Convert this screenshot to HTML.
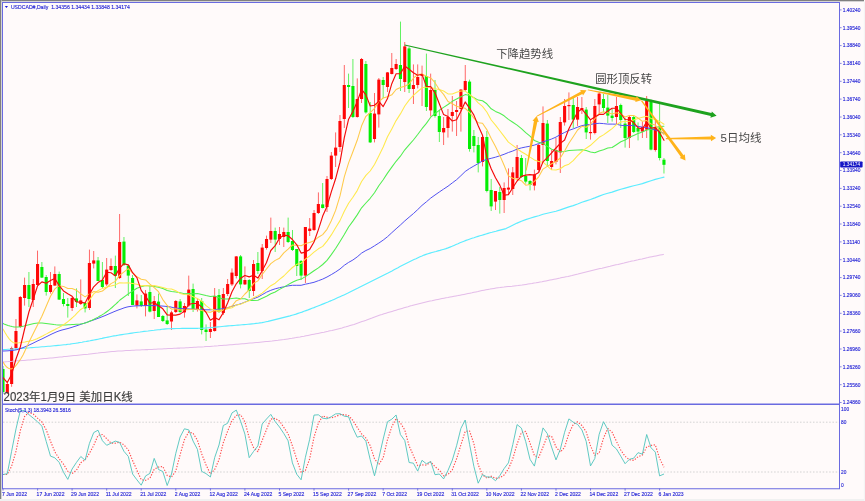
<!DOCTYPE html><html><head><meta charset="utf-8"><title>USDCAD Daily</title>
<style>html,body{margin:0;padding:0;background:#fffafa;}body{width:865px;height:501px;overflow:hidden;position:relative;font-family:"Liberation Sans","Noto Sans CJK SC",sans-serif;}svg{position:absolute;left:0;top:0;display:block;filter:blur(0.3px)}text{font-family:"Liberation Sans","Noto Sans CJK SC",sans-serif;}</style></head><body>
<svg width="865" height="501" viewBox="0 0 865 501">
<rect x="0" y="0" width="865" height="501" fill="#fffafa"/>
<rect x="0" y="0" width="864" height="1.7" fill="#c4c4c4"/>
<rect x="0" y="0" width="864" height="1.0" fill="#808080"/>
<rect x="0" y="0" width="1.7" height="499.2" fill="#c4c4c4"/>
<rect x="0" y="0" width="1.0" height="499.2" fill="#808080"/>
<rect x="0" y="499" width="865" height="2" fill="#f1f1f1"/>
<rect x="863.8" y="1.6" width="1.2" height="500" fill="#f4f4f4"/>
<defs><clipPath id="cm"><rect x="3" y="3" width="836" height="400.5"/></clipPath><clipPath id="cs"><rect x="3" y="405" width="836" height="83"/></clipPath></defs>
<g clip-path="url(#cm)">
<rect x="2.55" y="366.0" width="0.9" height="28.0" fill="#50f050"/>
<rect x="1.45" y="369.0" width="3.1" height="23.0" fill="#04ee04"/>
<rect x="6.87" y="383.0" width="0.9" height="11.0" fill="#ff5858"/>
<rect x="5.77" y="384.0" width="3.1" height="9.0" fill="#ff0606"/>
<rect x="11.19" y="346.6" width="0.9" height="40.2" fill="#ff5858"/>
<rect x="10.09" y="348.0" width="3.1" height="36.0" fill="#ff0606"/>
<rect x="15.51" y="319.0" width="0.9" height="31.0" fill="#ff5858"/>
<rect x="14.41" y="331.0" width="3.1" height="17.0" fill="#ff0606"/>
<rect x="19.83" y="296.0" width="0.9" height="32.0" fill="#ff5858"/>
<rect x="18.73" y="297.0" width="3.1" height="30.0" fill="#ff0606"/>
<rect x="24.15" y="277.6" width="0.9" height="28.0" fill="#ff5858"/>
<rect x="23.05" y="285.0" width="3.1" height="13.0" fill="#ff0606"/>
<rect x="28.47" y="272.0" width="0.9" height="35.0" fill="#50f050"/>
<rect x="27.37" y="285.0" width="3.1" height="14.0" fill="#04ee04"/>
<rect x="32.79" y="279.0" width="0.9" height="28.0" fill="#ff5858"/>
<rect x="31.69" y="284.0" width="3.1" height="16.0" fill="#ff0606"/>
<rect x="37.11" y="250.6" width="0.9" height="34.4" fill="#ff5858"/>
<rect x="36.01" y="264.0" width="3.1" height="21.0" fill="#ff0606"/>
<rect x="41.43" y="262.0" width="0.9" height="16.0" fill="#50f050"/>
<rect x="40.33" y="267.0" width="3.1" height="10.6" fill="#04ee04"/>
<rect x="45.75" y="275.0" width="0.9" height="20.6" fill="#50f050"/>
<rect x="44.65" y="277.0" width="3.1" height="15.0" fill="#04ee04"/>
<rect x="50.07" y="272.0" width="0.9" height="21.6" fill="#ff5858"/>
<rect x="48.97" y="285.0" width="3.1" height="7.0" fill="#ff0606"/>
<rect x="54.39" y="266.4" width="0.9" height="19.2" fill="#ff5858"/>
<rect x="53.29" y="274.0" width="3.1" height="11.6" fill="#ff0606"/>
<rect x="58.71" y="271.6" width="0.9" height="28.4" fill="#50f050"/>
<rect x="57.61" y="274.0" width="3.1" height="25.6" fill="#04ee04"/>
<rect x="63.03" y="293.0" width="0.9" height="13.4" fill="#50f050"/>
<rect x="61.93" y="299.0" width="3.1" height="5.0" fill="#04ee04"/>
<rect x="67.35" y="298.0" width="0.9" height="19.6" fill="#50f050"/>
<rect x="66.25" y="304.0" width="3.1" height="2.0" fill="#04ee04"/>
<rect x="71.67" y="297.0" width="0.9" height="14.0" fill="#ff5858"/>
<rect x="70.57" y="298.0" width="3.1" height="10.0" fill="#ff0606"/>
<rect x="75.99" y="288.4" width="0.9" height="18.6" fill="#50f050"/>
<rect x="74.89" y="298.4" width="3.1" height="3.6" fill="#04ee04"/>
<rect x="80.31" y="279.4" width="0.9" height="25.6" fill="#ff5858"/>
<rect x="79.21" y="300.4" width="3.1" height="3.6" fill="#ff0606"/>
<rect x="84.63" y="302.0" width="0.9" height="10.4" fill="#50f050"/>
<rect x="83.53" y="303.0" width="3.1" height="5.4" fill="#04ee04"/>
<rect x="88.95" y="249.6" width="0.9" height="60.4" fill="#ff5858"/>
<rect x="87.85" y="263.0" width="3.1" height="45.0" fill="#ff0606"/>
<rect x="93.27" y="251.0" width="0.9" height="17.4" fill="#ff5858"/>
<rect x="92.17" y="260.4" width="3.1" height="3.2" fill="#ff0606"/>
<rect x="97.59" y="257.0" width="0.9" height="24.0" fill="#50f050"/>
<rect x="96.49" y="260.4" width="3.1" height="20.6" fill="#04ee04"/>
<rect x="101.91" y="262.0" width="0.9" height="26.0" fill="#50f050"/>
<rect x="100.81" y="280.0" width="3.1" height="7.0" fill="#04ee04"/>
<rect x="106.23" y="258.0" width="0.9" height="28.0" fill="#ff5858"/>
<rect x="105.13" y="269.6" width="3.1" height="14.8" fill="#ff0606"/>
<rect x="110.55" y="258.4" width="0.9" height="12.6" fill="#ff5858"/>
<rect x="109.45" y="266.0" width="3.1" height="4.0" fill="#ff0606"/>
<rect x="114.87" y="255.6" width="0.9" height="32.4" fill="#50f050"/>
<rect x="113.77" y="266.0" width="3.1" height="10.0" fill="#04ee04"/>
<rect x="119.19" y="214.0" width="0.9" height="65.0" fill="#ff5858"/>
<rect x="118.09" y="242.0" width="3.1" height="36.0" fill="#ff0606"/>
<rect x="123.51" y="237.0" width="0.9" height="29.0" fill="#50f050"/>
<rect x="122.41" y="241.6" width="3.1" height="23.4" fill="#04ee04"/>
<rect x="127.83" y="265.6" width="0.9" height="30.4" fill="#50f050"/>
<rect x="126.73" y="265.6" width="3.1" height="10.0" fill="#04ee04"/>
<rect x="132.15" y="275.0" width="0.9" height="30.0" fill="#50f050"/>
<rect x="131.05" y="278.0" width="3.1" height="27.0" fill="#04ee04"/>
<rect x="136.47" y="294.4" width="0.9" height="14.0" fill="#ff5858"/>
<rect x="135.37" y="300.4" width="3.1" height="5.2" fill="#ff0606"/>
<rect x="140.79" y="295.0" width="0.9" height="12.0" fill="#50f050"/>
<rect x="139.69" y="301.4" width="3.1" height="4.6" fill="#04ee04"/>
<rect x="145.11" y="290.0" width="0.9" height="26.4" fill="#ff5858"/>
<rect x="144.01" y="293.6" width="3.1" height="12.4" fill="#ff0606"/>
<rect x="149.43" y="286.0" width="0.9" height="26.4" fill="#50f050"/>
<rect x="148.33" y="292.0" width="3.1" height="19.6" fill="#04ee04"/>
<rect x="153.75" y="296.0" width="0.9" height="23.0" fill="#ff5858"/>
<rect x="152.65" y="301.0" width="3.1" height="10.0" fill="#ff0606"/>
<rect x="158.07" y="293.6" width="0.9" height="23.4" fill="#50f050"/>
<rect x="156.97" y="301.6" width="3.1" height="15.4" fill="#04ee04"/>
<rect x="162.39" y="315.0" width="0.9" height="7.0" fill="#50f050"/>
<rect x="161.29" y="316.0" width="3.1" height="5.0" fill="#04ee04"/>
<rect x="166.71" y="307.0" width="0.9" height="18.0" fill="#50f050"/>
<rect x="165.61" y="320.4" width="3.1" height="3.6" fill="#04ee04"/>
<rect x="171.03" y="310.7" width="0.9" height="19.3" fill="#ff5858"/>
<rect x="169.93" y="312.4" width="3.1" height="9.1" fill="#ff0606"/>
<rect x="175.35" y="300.0" width="0.9" height="13.0" fill="#ff5858"/>
<rect x="174.25" y="301.0" width="3.1" height="11.0" fill="#ff0606"/>
<rect x="179.67" y="299.0" width="0.9" height="14.0" fill="#50f050"/>
<rect x="178.57" y="301.4" width="3.1" height="10.6" fill="#04ee04"/>
<rect x="183.99" y="303.0" width="0.9" height="14.6" fill="#ff5858"/>
<rect x="182.89" y="306.0" width="3.1" height="6.4" fill="#ff0606"/>
<rect x="188.31" y="275.6" width="0.9" height="31.4" fill="#ff5858"/>
<rect x="187.21" y="289.6" width="3.1" height="16.0" fill="#ff0606"/>
<rect x="192.63" y="283.6" width="0.9" height="28.4" fill="#50f050"/>
<rect x="191.53" y="289.0" width="3.1" height="20.0" fill="#04ee04"/>
<rect x="196.95" y="298.0" width="0.9" height="13.6" fill="#ff5858"/>
<rect x="195.85" y="301.0" width="3.1" height="9.0" fill="#ff0606"/>
<rect x="201.27" y="298.0" width="0.9" height="36.4" fill="#50f050"/>
<rect x="200.17" y="301.0" width="3.1" height="29.0" fill="#04ee04"/>
<rect x="205.59" y="324.4" width="0.9" height="16.6" fill="#50f050"/>
<rect x="204.49" y="329.6" width="3.1" height="2.4" fill="#04ee04"/>
<rect x="209.91" y="322.0" width="0.9" height="16.0" fill="#ff5858"/>
<rect x="208.81" y="329.0" width="3.1" height="3.0" fill="#ff0606"/>
<rect x="214.23" y="288.0" width="0.9" height="43.6" fill="#ff5858"/>
<rect x="213.13" y="296.0" width="3.1" height="35.0" fill="#ff0606"/>
<rect x="218.55" y="289.0" width="0.9" height="24.0" fill="#50f050"/>
<rect x="217.45" y="295.0" width="3.1" height="17.0" fill="#04ee04"/>
<rect x="222.87" y="288.0" width="0.9" height="27.0" fill="#ff5858"/>
<rect x="221.77" y="294.0" width="3.1" height="19.0" fill="#ff0606"/>
<rect x="227.19" y="279.0" width="0.9" height="17.0" fill="#ff5858"/>
<rect x="226.09" y="284.0" width="3.1" height="10.0" fill="#ff0606"/>
<rect x="231.51" y="268.4" width="0.9" height="17.6" fill="#ff5858"/>
<rect x="230.41" y="272.6" width="3.1" height="11.8" fill="#ff0606"/>
<rect x="235.83" y="256.0" width="0.9" height="22.4" fill="#ff5858"/>
<rect x="234.73" y="256.4" width="3.1" height="19.6" fill="#ff0606"/>
<rect x="240.15" y="255.0" width="0.9" height="33.4" fill="#50f050"/>
<rect x="239.05" y="256.4" width="3.1" height="28.0" fill="#04ee04"/>
<rect x="244.47" y="266.4" width="0.9" height="18.6" fill="#ff5858"/>
<rect x="243.37" y="280.0" width="3.1" height="4.4" fill="#ff0606"/>
<rect x="248.79" y="279.0" width="0.9" height="19.0" fill="#50f050"/>
<rect x="247.69" y="280.0" width="3.1" height="11.0" fill="#04ee04"/>
<rect x="253.11" y="260.0" width="0.9" height="36.0" fill="#ff5858"/>
<rect x="252.01" y="264.0" width="3.1" height="27.0" fill="#ff0606"/>
<rect x="257.43" y="252.0" width="0.9" height="22.0" fill="#50f050"/>
<rect x="256.33" y="263.0" width="3.1" height="8.0" fill="#04ee04"/>
<rect x="261.75" y="244.0" width="0.9" height="35.0" fill="#ff5858"/>
<rect x="260.65" y="247.6" width="3.1" height="23.4" fill="#ff0606"/>
<rect x="266.07" y="235.6" width="0.9" height="14.0" fill="#ff5858"/>
<rect x="264.97" y="239.0" width="3.1" height="9.0" fill="#ff0606"/>
<rect x="270.39" y="217.6" width="0.9" height="25.4" fill="#ff5858"/>
<rect x="269.29" y="231.0" width="3.1" height="8.6" fill="#ff0606"/>
<rect x="274.71" y="227.6" width="0.9" height="24.4" fill="#50f050"/>
<rect x="273.61" y="231.0" width="3.1" height="8.6" fill="#04ee04"/>
<rect x="279.03" y="227.0" width="0.9" height="18.0" fill="#ff5858"/>
<rect x="277.93" y="234.0" width="3.1" height="5.0" fill="#ff0606"/>
<rect x="283.35" y="227.6" width="0.9" height="19.4" fill="#ff5858"/>
<rect x="282.25" y="232.0" width="3.1" height="5.0" fill="#ff0606"/>
<rect x="287.67" y="217.6" width="0.9" height="25.4" fill="#50f050"/>
<rect x="286.57" y="232.0" width="3.1" height="10.0" fill="#04ee04"/>
<rect x="291.99" y="230.0" width="0.9" height="21.0" fill="#50f050"/>
<rect x="290.89" y="241.0" width="3.1" height="9.0" fill="#04ee04"/>
<rect x="296.31" y="249.0" width="0.9" height="27.0" fill="#50f050"/>
<rect x="295.21" y="249.0" width="3.1" height="17.0" fill="#04ee04"/>
<rect x="300.63" y="260.0" width="0.9" height="20.0" fill="#50f050"/>
<rect x="299.53" y="261.0" width="3.1" height="14.6" fill="#04ee04"/>
<rect x="304.95" y="227.0" width="0.9" height="56.0" fill="#ff5858"/>
<rect x="303.85" y="227.0" width="3.1" height="48.6" fill="#ff0606"/>
<rect x="309.27" y="218.0" width="0.9" height="18.0" fill="#ff5858"/>
<rect x="308.17" y="228.6" width="3.1" height="2.4" fill="#ff0606"/>
<rect x="313.59" y="210.0" width="0.9" height="21.0" fill="#ff5858"/>
<rect x="312.49" y="213.0" width="3.1" height="17.0" fill="#ff0606"/>
<rect x="317.91" y="192.4" width="0.9" height="21.6" fill="#ff5858"/>
<rect x="316.81" y="204.0" width="3.1" height="9.0" fill="#ff0606"/>
<rect x="322.23" y="183.0" width="0.9" height="25.4" fill="#50f050"/>
<rect x="321.13" y="204.4" width="3.1" height="3.6" fill="#04ee04"/>
<rect x="326.55" y="176.0" width="0.9" height="36.0" fill="#ff5858"/>
<rect x="325.45" y="179.0" width="3.1" height="28.0" fill="#ff0606"/>
<rect x="330.87" y="152.0" width="0.9" height="28.0" fill="#ff5858"/>
<rect x="329.77" y="155.6" width="3.1" height="23.4" fill="#ff0606"/>
<rect x="335.19" y="132.4" width="0.9" height="34.6" fill="#ff5858"/>
<rect x="334.09" y="147.6" width="3.1" height="8.0" fill="#ff0606"/>
<rect x="339.51" y="115.0" width="0.9" height="37.0" fill="#ff5858"/>
<rect x="338.41" y="121.0" width="3.1" height="26.0" fill="#ff0606"/>
<rect x="343.83" y="65.0" width="0.9" height="63.0" fill="#ff5858"/>
<rect x="342.73" y="85.0" width="3.1" height="34.0" fill="#ff0606"/>
<rect x="348.15" y="73.6" width="0.9" height="34.4" fill="#50f050"/>
<rect x="347.05" y="85.0" width="3.1" height="2.0" fill="#04ee04"/>
<rect x="352.47" y="59.0" width="0.9" height="59.0" fill="#50f050"/>
<rect x="351.37" y="86.0" width="3.1" height="31.0" fill="#04ee04"/>
<rect x="356.79" y="78.4" width="0.9" height="39.2" fill="#ff5858"/>
<rect x="355.69" y="99.0" width="3.1" height="18.0" fill="#ff0606"/>
<rect x="361.11" y="58.0" width="0.9" height="45.0" fill="#ff5858"/>
<rect x="360.01" y="59.0" width="3.1" height="40.0" fill="#ff0606"/>
<rect x="365.43" y="61.0" width="0.9" height="52.6" fill="#50f050"/>
<rect x="364.33" y="64.0" width="3.1" height="48.4" fill="#04ee04"/>
<rect x="369.75" y="102.0" width="0.9" height="41.0" fill="#50f050"/>
<rect x="368.65" y="113.0" width="3.1" height="29.4" fill="#04ee04"/>
<rect x="374.07" y="93.0" width="0.9" height="49.4" fill="#ff5858"/>
<rect x="372.97" y="113.6" width="3.1" height="25.4" fill="#ff0606"/>
<rect x="378.39" y="78.0" width="0.9" height="49.6" fill="#ff5858"/>
<rect x="377.29" y="79.6" width="3.1" height="34.8" fill="#ff0606"/>
<rect x="382.71" y="77.0" width="0.9" height="21.0" fill="#50f050"/>
<rect x="381.61" y="80.0" width="3.1" height="5.0" fill="#04ee04"/>
<rect x="387.03" y="72.0" width="0.9" height="20.0" fill="#ff5858"/>
<rect x="385.93" y="72.4" width="3.1" height="14.6" fill="#ff0606"/>
<rect x="391.35" y="53.0" width="0.9" height="21.4" fill="#ff5858"/>
<rect x="390.25" y="68.0" width="3.1" height="6.0" fill="#ff0606"/>
<rect x="395.67" y="59.0" width="0.9" height="11.0" fill="#ff5858"/>
<rect x="394.57" y="64.0" width="3.1" height="5.0" fill="#ff0606"/>
<rect x="399.99" y="21.6" width="0.9" height="69.4" fill="#50f050"/>
<rect x="398.89" y="65.0" width="3.1" height="14.0" fill="#04ee04"/>
<rect x="404.31" y="42.0" width="0.9" height="50.0" fill="#ff5858"/>
<rect x="403.21" y="46.4" width="3.1" height="35.6" fill="#ff0606"/>
<rect x="408.63" y="47.0" width="0.9" height="46.0" fill="#50f050"/>
<rect x="407.53" y="48.4" width="3.1" height="40.6" fill="#04ee04"/>
<rect x="412.95" y="64.4" width="0.9" height="39.6" fill="#ff5858"/>
<rect x="411.85" y="85.0" width="3.1" height="4.0" fill="#ff0606"/>
<rect x="417.27" y="64.4" width="0.9" height="24.0" fill="#ff5858"/>
<rect x="416.17" y="77.0" width="3.1" height="8.0" fill="#ff0606"/>
<rect x="421.59" y="65.6" width="0.9" height="40.4" fill="#ff5858"/>
<rect x="420.49" y="74.0" width="3.1" height="2.0" fill="#ff0606"/>
<rect x="425.91" y="53.6" width="0.9" height="57.4" fill="#50f050"/>
<rect x="424.81" y="76.0" width="3.1" height="31.0" fill="#04ee04"/>
<rect x="430.23" y="73.6" width="0.9" height="42.8" fill="#ff5858"/>
<rect x="429.13" y="90.0" width="3.1" height="20.4" fill="#ff0606"/>
<rect x="434.55" y="80.0" width="0.9" height="37.6" fill="#50f050"/>
<rect x="433.45" y="90.0" width="3.1" height="26.0" fill="#04ee04"/>
<rect x="438.87" y="110.0" width="0.9" height="32.0" fill="#50f050"/>
<rect x="437.77" y="116.0" width="3.1" height="16.0" fill="#04ee04"/>
<rect x="443.19" y="117.0" width="0.9" height="28.0" fill="#ff5858"/>
<rect x="442.09" y="128.0" width="3.1" height="4.4" fill="#ff0606"/>
<rect x="447.51" y="109.0" width="0.9" height="28.6" fill="#ff5858"/>
<rect x="446.41" y="117.0" width="3.1" height="11.0" fill="#ff0606"/>
<rect x="451.83" y="96.0" width="0.9" height="35.6" fill="#ff5858"/>
<rect x="450.73" y="112.0" width="3.1" height="4.0" fill="#ff0606"/>
<rect x="456.15" y="101.0" width="0.9" height="35.0" fill="#ff5858"/>
<rect x="455.05" y="110.0" width="3.1" height="2.0" fill="#ff0606"/>
<rect x="460.47" y="89.0" width="0.9" height="42.6" fill="#ff5858"/>
<rect x="459.37" y="89.6" width="3.1" height="19.4" fill="#ff0606"/>
<rect x="464.79" y="65.0" width="0.9" height="26.0" fill="#ff5858"/>
<rect x="463.69" y="81.0" width="3.1" height="9.0" fill="#ff0606"/>
<rect x="469.11" y="79.6" width="0.9" height="72.0" fill="#50f050"/>
<rect x="468.01" y="81.6" width="3.1" height="67.4" fill="#04ee04"/>
<rect x="473.43" y="130.0" width="0.9" height="22.4" fill="#50f050"/>
<rect x="472.33" y="136.0" width="3.1" height="10.0" fill="#04ee04"/>
<rect x="477.75" y="137.0" width="0.9" height="35.4" fill="#50f050"/>
<rect x="476.65" y="145.0" width="3.1" height="18.0" fill="#04ee04"/>
<rect x="482.07" y="136.0" width="0.9" height="30.4" fill="#ff5858"/>
<rect x="480.97" y="137.0" width="3.1" height="25.0" fill="#ff0606"/>
<rect x="486.39" y="131.0" width="0.9" height="61.4" fill="#50f050"/>
<rect x="485.29" y="137.0" width="3.1" height="54.0" fill="#04ee04"/>
<rect x="490.71" y="179.0" width="0.9" height="32.0" fill="#50f050"/>
<rect x="489.61" y="190.0" width="3.1" height="16.4" fill="#04ee04"/>
<rect x="495.03" y="191.0" width="0.9" height="19.0" fill="#ff5858"/>
<rect x="493.93" y="191.0" width="3.1" height="10.6" fill="#ff0606"/>
<rect x="499.35" y="187.0" width="0.9" height="26.6" fill="#50f050"/>
<rect x="498.25" y="192.0" width="3.1" height="8.0" fill="#04ee04"/>
<rect x="503.67" y="182.4" width="0.9" height="30.6" fill="#ff5858"/>
<rect x="502.57" y="188.0" width="3.1" height="12.0" fill="#ff0606"/>
<rect x="507.99" y="168.4" width="0.9" height="26.6" fill="#ff5858"/>
<rect x="506.89" y="187.6" width="3.1" height="2.0" fill="#ff0606"/>
<rect x="512.31" y="167.0" width="0.9" height="28.0" fill="#ff5858"/>
<rect x="511.21" y="172.4" width="3.1" height="16.6" fill="#ff0606"/>
<rect x="516.63" y="145.0" width="0.9" height="34.0" fill="#ff5858"/>
<rect x="515.53" y="157.0" width="3.1" height="21.0" fill="#ff0606"/>
<rect x="520.95" y="155.0" width="0.9" height="23.0" fill="#50f050"/>
<rect x="519.85" y="158.0" width="3.1" height="19.0" fill="#04ee04"/>
<rect x="525.27" y="158.0" width="0.9" height="25.6" fill="#50f050"/>
<rect x="524.17" y="176.0" width="3.1" height="5.6" fill="#04ee04"/>
<rect x="529.59" y="180.0" width="0.9" height="10.4" fill="#50f050"/>
<rect x="528.49" y="181.0" width="3.1" height="4.0" fill="#04ee04"/>
<rect x="533.91" y="169.6" width="0.9" height="20.8" fill="#ff5858"/>
<rect x="532.81" y="174.4" width="3.1" height="11.2" fill="#ff0606"/>
<rect x="538.23" y="144.0" width="0.9" height="28.0" fill="#ff5858"/>
<rect x="537.13" y="145.0" width="3.1" height="25.0" fill="#ff0606"/>
<rect x="542.55" y="106.4" width="0.9" height="56.6" fill="#ff5858"/>
<rect x="541.45" y="123.0" width="3.1" height="22.0" fill="#ff0606"/>
<rect x="546.87" y="120.0" width="0.9" height="47.0" fill="#50f050"/>
<rect x="545.77" y="123.6" width="3.1" height="37.4" fill="#04ee04"/>
<rect x="551.19" y="150.0" width="0.9" height="20.0" fill="#ff5858"/>
<rect x="550.09" y="161.0" width="3.1" height="6.0" fill="#ff0606"/>
<rect x="555.51" y="138.0" width="0.9" height="26.4" fill="#ff5858"/>
<rect x="554.41" y="150.0" width="3.1" height="12.0" fill="#ff0606"/>
<rect x="559.83" y="117.0" width="0.9" height="56.0" fill="#ff5858"/>
<rect x="558.73" y="122.0" width="3.1" height="30.4" fill="#ff0606"/>
<rect x="564.15" y="99.0" width="0.9" height="26.6" fill="#ff5858"/>
<rect x="563.05" y="106.0" width="3.1" height="16.4" fill="#ff0606"/>
<rect x="568.47" y="92.4" width="0.9" height="27.6" fill="#ff5858"/>
<rect x="567.37" y="105.0" width="3.1" height="1.2" fill="#ff0606"/>
<rect x="572.79" y="98.0" width="0.9" height="30.0" fill="#50f050"/>
<rect x="571.69" y="105.0" width="3.1" height="14.6" fill="#04ee04"/>
<rect x="577.11" y="97.0" width="0.9" height="29.0" fill="#ff5858"/>
<rect x="576.01" y="107.0" width="3.1" height="12.6" fill="#ff0606"/>
<rect x="581.43" y="97.0" width="0.9" height="17.0" fill="#ff5858"/>
<rect x="580.33" y="108.0" width="3.1" height="2.0" fill="#ff0606"/>
<rect x="585.75" y="107.0" width="0.9" height="32.0" fill="#50f050"/>
<rect x="584.65" y="109.6" width="3.1" height="22.8" fill="#04ee04"/>
<rect x="590.07" y="120.0" width="0.9" height="19.6" fill="#ff5858"/>
<rect x="588.97" y="132.0" width="3.1" height="1.2" fill="#ff0606"/>
<rect x="594.39" y="99.0" width="0.9" height="35.4" fill="#ff5858"/>
<rect x="593.29" y="106.0" width="3.1" height="27.0" fill="#ff0606"/>
<rect x="598.71" y="92.0" width="0.9" height="21.6" fill="#ff5858"/>
<rect x="597.61" y="93.6" width="3.1" height="10.8" fill="#ff0606"/>
<rect x="603.03" y="94.0" width="0.9" height="18.4" fill="#50f050"/>
<rect x="601.93" y="99.0" width="3.1" height="9.0" fill="#04ee04"/>
<rect x="607.35" y="95.0" width="0.9" height="28.0" fill="#50f050"/>
<rect x="606.25" y="107.6" width="3.1" height="8.0" fill="#04ee04"/>
<rect x="611.67" y="109.0" width="0.9" height="12.6" fill="#50f050"/>
<rect x="610.57" y="115.6" width="3.1" height="2.4" fill="#04ee04"/>
<rect x="615.99" y="97.0" width="0.9" height="27.0" fill="#ff5858"/>
<rect x="614.89" y="106.0" width="3.1" height="11.0" fill="#ff0606"/>
<rect x="620.31" y="103.6" width="0.9" height="24.4" fill="#50f050"/>
<rect x="619.21" y="105.0" width="3.1" height="15.0" fill="#04ee04"/>
<rect x="624.63" y="118.0" width="0.9" height="29.6" fill="#50f050"/>
<rect x="623.53" y="123.6" width="3.1" height="14.4" fill="#04ee04"/>
<rect x="628.95" y="115.0" width="0.9" height="33.0" fill="#ff5858"/>
<rect x="627.85" y="117.0" width="3.1" height="21.0" fill="#ff0606"/>
<rect x="633.27" y="116.0" width="0.9" height="17.0" fill="#50f050"/>
<rect x="632.17" y="117.0" width="3.1" height="15.0" fill="#04ee04"/>
<rect x="637.59" y="122.4" width="0.9" height="18.0" fill="#50f050"/>
<rect x="636.49" y="128.0" width="3.1" height="3.6" fill="#04ee04"/>
<rect x="641.91" y="121.6" width="0.9" height="16.4" fill="#ff5858"/>
<rect x="640.81" y="127.0" width="3.1" height="4.6" fill="#ff0606"/>
<rect x="646.23" y="96.0" width="0.9" height="42.0" fill="#ff5858"/>
<rect x="645.13" y="101.0" width="3.1" height="28.6" fill="#ff0606"/>
<rect x="650.55" y="99.6" width="0.9" height="50.8" fill="#50f050"/>
<rect x="649.45" y="101.6" width="3.1" height="48.0" fill="#04ee04"/>
<rect x="654.87" y="120.0" width="0.9" height="31.6" fill="#ff5858"/>
<rect x="653.77" y="128.0" width="3.1" height="22.0" fill="#ff0606"/>
<rect x="659.19" y="103.0" width="0.9" height="57.4" fill="#50f050"/>
<rect x="658.09" y="127.6" width="3.1" height="30.4" fill="#04ee04"/>
<rect x="663.51" y="158.0" width="0.9" height="15.5" fill="#50f050"/>
<rect x="662.41" y="159.7" width="3.1" height="5.1" fill="#04ee04"/>
</g>
<g clip-path="url(#cm)" fill="none" stroke-linejoin="round" stroke-linecap="round">
<path d="M2.0,362.0 L4.0,361.9 L6.0,361.7 L8.0,361.6 L10.0,361.4 L12.0,361.3 L14.0,361.1 L16.0,361.0 L18.0,360.8 L20.0,360.7 L22.0,360.5 L24.0,360.4 L26.0,360.2 L28.0,360.0 L30.0,359.9 L32.0,359.7 L34.0,359.5 L36.0,359.3 L38.0,359.2 L40.0,359.0 L42.0,358.8 L44.0,358.6 L46.0,358.5 L48.0,358.3 L50.0,358.1 L52.0,357.9 L54.0,357.7 L56.0,357.5 L58.0,357.3 L60.0,357.1 L62.0,356.9 L64.0,356.6 L66.0,356.4 L68.0,356.2 L70.0,356.0 L72.0,355.8 L74.0,355.6 L76.0,355.4 L78.0,355.2 L80.0,355.0 L82.0,354.8 L84.0,354.6 L86.0,354.4 L88.0,354.2 L90.0,353.9 L92.0,353.7 L94.0,353.5 L96.0,353.3 L98.0,353.1 L100.0,352.8 L102.0,352.6 L104.0,352.4 L106.0,352.2 L108.0,352.0 L110.0,351.8 L112.0,351.6 L114.0,351.5 L116.0,351.3 L118.0,351.1 L120.0,351.0 L122.0,350.9 L124.0,350.7 L126.0,350.6 L128.0,350.5 L130.0,350.4 L132.0,350.3 L134.0,350.2 L136.0,350.1 L138.0,350.0 L140.0,349.9 L142.0,349.8 L144.0,349.7 L146.0,349.6 L148.0,349.6 L150.0,349.5 L152.0,349.4 L154.0,349.3 L156.0,349.2 L158.0,349.1 L160.0,349.0 L162.0,348.9 L164.0,348.8 L166.0,348.7 L168.0,348.6 L170.0,348.5 L172.0,348.4 L174.0,348.3 L176.0,348.2 L178.0,348.1 L180.0,348.1 L182.0,348.0 L184.0,347.9 L186.0,347.8 L188.0,347.7 L190.0,347.6 L192.0,347.5 L194.0,347.3 L196.0,347.2 L198.0,347.1 L200.0,347.0 L202.0,346.9 L204.0,346.8 L206.0,346.6 L208.0,346.5 L210.0,346.4 L212.0,346.2 L214.0,346.1 L216.0,345.9 L218.0,345.8 L220.0,345.6 L222.0,345.5 L224.0,345.3 L226.0,345.2 L228.0,345.0 L230.0,344.8 L232.0,344.7 L234.0,344.5 L236.0,344.3 L238.0,344.2 L240.0,344.0 L242.0,343.8 L244.0,343.7 L246.0,343.5 L248.0,343.3 L250.0,343.1 L252.0,343.0 L254.0,342.8 L256.0,342.6 L258.0,342.4 L260.0,342.2 L262.0,342.0 L264.0,341.8 L266.0,341.6 L268.0,341.4 L270.0,341.2 L272.0,341.0 L274.0,340.7 L276.0,340.5 L278.0,340.3 L280.0,340.0 L282.0,339.7 L284.0,339.5 L286.0,339.2 L288.0,338.9 L290.0,338.6 L292.0,338.3 L294.0,337.9 L296.0,337.6 L298.0,337.2 L300.0,336.9 L302.0,336.5 L304.0,336.2 L306.0,335.8 L308.0,335.4 L310.0,335.0 L312.0,334.6 L314.0,334.2 L316.0,333.8 L318.0,333.4 L320.0,333.0 L322.0,332.6 L324.0,332.2 L326.0,331.7 L328.0,331.3 L330.0,330.8 L332.0,330.4 L334.0,329.9 L336.0,329.4 L338.0,328.9 L340.0,328.4 L342.0,327.9 L344.0,327.3 L346.0,326.8 L348.0,326.2 L350.0,325.6 L352.0,325.0 L354.0,324.4 L356.0,323.7 L358.0,323.0 L360.0,322.3 L362.0,321.6 L364.0,320.9 L366.0,320.2 L368.0,319.4 L370.0,318.7 L372.0,318.0 L374.0,317.2 L376.0,316.5 L378.0,315.8 L380.0,315.1 L382.0,314.5 L384.0,313.8 L386.0,313.2 L388.0,312.6 L390.0,312.0 L392.0,311.4 L394.0,310.8 L396.0,310.2 L398.0,309.6 L400.0,309.0 L402.0,308.4 L404.0,307.8 L406.0,307.2 L408.0,306.7 L410.0,306.1 L412.0,305.6 L414.0,305.0 L416.0,304.5 L418.0,304.0 L420.0,303.5 L422.0,303.0 L424.0,302.5 L426.0,302.0 L428.0,301.5 L430.0,301.1 L432.0,300.7 L434.0,300.2 L436.0,299.8 L438.0,299.4 L440.0,299.0 L442.0,298.6 L444.0,298.2 L446.0,297.8 L448.0,297.5 L450.0,297.1 L452.0,296.7 L454.0,296.3 L456.0,295.9 L458.0,295.6 L460.0,295.2 L462.0,294.8 L464.0,294.4 L466.0,294.0 L468.0,293.6 L470.0,293.2 L472.0,292.8 L474.0,292.3 L476.0,291.9 L478.0,291.5 L480.0,291.0 L482.0,290.6 L484.0,290.2 L486.0,289.8 L488.0,289.4 L490.0,289.1 L492.0,288.7 L494.0,288.4 L496.0,288.1 L498.0,287.8 L500.0,287.6 L502.0,287.3 L504.0,287.1 L506.0,286.8 L508.0,286.6 L510.0,286.4 L512.0,286.2 L514.0,285.9 L516.0,285.7 L518.0,285.5 L520.0,285.2 L522.0,285.0 L524.0,284.7 L526.0,284.4 L528.0,284.1 L530.0,283.8 L532.0,283.5 L534.0,283.1 L536.0,282.8 L538.0,282.4 L540.0,282.0 L542.0,281.7 L544.0,281.3 L546.0,280.9 L548.0,280.5 L550.0,280.1 L552.0,279.7 L554.0,279.3 L556.0,278.9 L558.0,278.5 L560.0,278.1 L562.0,277.6 L564.0,277.2 L566.0,276.8 L568.0,276.4 L570.0,275.9 L572.0,275.5 L574.0,275.0 L576.0,274.5 L578.0,274.1 L580.0,273.6 L582.0,273.1 L584.0,272.6 L586.0,272.1 L588.0,271.6 L590.0,271.1 L592.0,270.6 L594.0,270.1 L596.0,269.6 L598.0,269.1 L600.0,268.6 L602.0,268.2 L604.0,267.7 L606.0,267.2 L608.0,266.7 L610.0,266.3 L612.0,265.8 L614.0,265.3 L616.0,264.8 L618.0,264.4 L620.0,263.9 L622.0,263.4 L624.0,263.0 L626.0,262.5 L628.0,262.0 L630.0,261.6 L632.0,261.1 L634.0,260.7 L636.0,260.2 L638.0,259.8 L640.0,259.3 L642.0,258.9 L644.0,258.4 L646.0,258.0 L648.0,257.6 L650.0,257.1 L652.0,256.7 L654.0,256.3 L656.0,255.9 L658.0,255.5 L660.0,255.1 L662.0,254.7 L663.4,254.4" stroke="#e4bcea" stroke-width="1.05"/>
<path d="M2.0,349.7 L4.0,349.6 L6.0,349.5 L8.0,349.3 L10.0,349.2 L12.0,349.1 L14.0,349.0 L16.0,348.8 L18.0,348.7 L20.0,348.5 L22.0,348.4 L24.0,348.3 L26.0,348.1 L28.0,348.0 L30.0,347.8 L32.0,347.6 L34.0,347.5 L36.0,347.3 L38.0,347.2 L40.0,347.0 L42.0,346.8 L44.0,346.7 L46.0,346.5 L48.0,346.3 L50.0,346.2 L52.0,346.0 L54.0,345.8 L56.0,345.6 L58.0,345.4 L60.0,345.2 L62.0,345.0 L64.0,344.8 L66.0,344.6 L68.0,344.3 L70.0,344.1 L72.0,343.8 L74.0,343.5 L76.0,343.2 L78.0,342.9 L80.0,342.5 L82.0,342.2 L84.0,341.8 L86.0,341.5 L88.0,341.1 L90.0,340.8 L92.0,340.4 L94.0,340.0 L96.0,339.6 L98.0,339.2 L100.0,338.8 L102.0,338.4 L104.0,337.9 L106.0,337.5 L108.0,337.1 L110.0,336.7 L112.0,336.3 L114.0,335.9 L116.0,335.6 L118.0,335.2 L120.0,334.9 L122.0,334.6 L124.0,334.3 L126.0,334.0 L128.0,333.7 L130.0,333.4 L132.0,333.1 L134.0,332.8 L136.0,332.5 L138.0,332.2 L140.0,332.0 L142.0,331.7 L144.0,331.4 L146.0,331.2 L148.0,331.0 L150.0,330.7 L152.0,330.5 L154.0,330.3 L156.0,330.0 L158.0,329.8 L160.0,329.6 L162.0,329.3 L164.0,329.1 L166.0,328.9 L168.0,328.8 L170.0,328.7 L172.0,328.6 L174.0,328.6 L176.0,328.5 L178.0,328.5 L180.0,328.5 L182.0,328.4 L184.0,328.4 L186.0,328.4 L188.0,328.4 L190.0,328.4 L192.0,328.3 L194.0,328.3 L196.0,328.3 L198.0,328.3 L200.0,328.2 L202.0,328.2 L204.0,328.1 L206.0,328.0 L208.0,327.8 L210.0,327.7 L212.0,327.5 L214.0,327.3 L216.0,327.1 L218.0,326.9 L220.0,326.7 L222.0,326.5 L224.0,326.3 L226.0,326.1 L228.0,325.9 L230.0,325.8 L232.0,325.6 L234.0,325.5 L236.0,325.3 L238.0,325.1 L240.0,325.0 L242.0,324.8 L244.0,324.6 L246.0,324.5 L248.0,324.3 L250.0,324.1 L252.0,323.9 L254.0,323.7 L256.0,323.4 L258.0,323.2 L260.0,322.9 L262.0,322.6 L264.0,322.2 L266.0,321.8 L268.0,321.4 L270.0,320.9 L272.0,320.4 L274.0,319.9 L276.0,319.4 L278.0,318.9 L280.0,318.4 L282.0,317.9 L284.0,317.4 L286.0,316.9 L288.0,316.4 L290.0,315.9 L292.0,315.3 L294.0,314.7 L296.0,314.1 L298.0,313.4 L300.0,312.7 L302.0,312.1 L304.0,311.3 L306.0,310.6 L308.0,309.9 L310.0,309.1 L312.0,308.3 L314.0,307.6 L316.0,306.8 L318.0,306.0 L320.0,305.2 L322.0,304.4 L324.0,303.6 L326.0,302.8 L328.0,302.0 L330.0,301.1 L332.0,300.3 L334.0,299.4 L336.0,298.5 L338.0,297.6 L340.0,296.7 L342.0,295.8 L344.0,294.9 L346.0,294.0 L348.0,293.1 L350.0,292.1 L352.0,291.1 L354.0,290.1 L356.0,289.1 L358.0,288.1 L360.0,287.0 L362.0,286.0 L364.0,285.0 L366.0,284.0 L368.0,283.0 L370.0,282.0 L372.0,281.0 L374.0,280.0 L376.0,279.0 L378.0,278.0 L380.0,277.0 L382.0,276.0 L384.0,275.0 L386.0,274.0 L388.0,273.0 L390.0,271.9 L392.0,270.9 L394.0,269.8 L396.0,268.7 L398.0,267.7 L400.0,266.6 L402.0,265.6 L404.0,264.6 L406.0,263.6 L408.0,262.6 L410.0,261.6 L412.0,260.6 L414.0,259.6 L416.0,258.7 L418.0,257.7 L420.0,256.8 L422.0,256.0 L424.0,255.1 L426.0,254.4 L428.0,253.7 L430.0,253.1 L432.0,252.5 L434.0,252.0 L436.0,251.5 L438.0,250.9 L440.0,250.4 L442.0,249.8 L444.0,249.2 L446.0,248.6 L448.0,247.9 L450.0,247.1 L452.0,246.3 L454.0,245.4 L456.0,244.5 L458.0,243.7 L460.0,242.8 L462.0,242.0 L464.0,241.2 L466.0,240.4 L468.0,239.7 L470.0,239.0 L472.0,238.3 L474.0,237.7 L476.0,237.0 L478.0,236.4 L480.0,235.8 L482.0,235.2 L484.0,234.6 L486.0,234.0 L488.0,233.4 L490.0,232.8 L492.0,232.3 L494.0,231.7 L496.0,231.2 L498.0,230.6 L500.0,230.1 L502.0,229.6 L504.0,229.1 L506.0,228.6 L517.1,223.1 L521.4,221.3 L525.7,219.6 L530.0,218.2 L534.4,216.9 L538.7,215.7 L543.0,214.3 L547.3,213.2 L551.6,212.2 L556.0,211.2 L560.3,209.9 L564.6,208.4 L568.9,206.9 L573.2,205.6 L577.6,204.0 L581.9,202.3 L586.2,200.9 L590.5,199.5 L594.8,197.9 L599.2,196.1 L603.5,194.5 L607.8,193.2 L612.1,192.1 L616.4,190.6 L620.8,189.2 L625.1,188.1 L629.4,186.9 L633.7,185.7 L638.0,184.7 L642.4,183.6 L646.7,182.1 L651.0,180.8 L655.3,179.4 L659.6,178.2 L664.0,177.1" stroke="#5cecff" stroke-width="1.15"/>
<path d="M2.0,351.0 L4.0,351.0 L6.0,350.9 L8.0,350.8 L10.0,350.6 L12.0,350.5 L14.0,350.2 L16.0,349.9 L18.0,349.4 L20.0,348.7 L22.0,348.0 L24.0,347.2 L26.0,346.4 L28.0,345.6 L30.0,344.6 L32.0,343.7 L34.0,342.7 L36.0,341.7 L38.0,340.7 L40.0,339.8 L42.0,338.9 L44.0,337.9 L46.0,336.9 L48.0,335.9 L50.0,334.9 L52.0,333.9 L54.0,333.0 L56.0,332.1 L58.0,331.3 L60.0,330.6 L62.0,330.0 L64.0,329.5 L66.0,329.0 L68.0,328.5 L70.0,327.9 L72.0,327.3 L74.0,326.6 L76.0,326.0 L78.0,325.3 L80.0,324.6 L82.0,323.9 L84.0,323.3 L86.0,322.6 L88.0,321.9 L90.0,321.2 L92.0,320.5 L94.0,319.8 L96.0,319.1 L98.0,318.3 L100.0,317.6 L102.0,316.8 L104.0,316.0 L106.0,315.2 L108.0,314.3 L110.0,313.4 L112.0,312.6 L114.0,311.7 L116.0,310.9 L118.0,310.1 L120.0,309.4 L122.0,308.7 L124.0,307.9 L126.0,307.3 L128.0,306.8 L130.0,306.5 L132.0,306.2 L134.0,306.0 L136.0,305.9 L138.0,305.8 L140.0,305.8 L142.0,305.7 L144.0,305.7 L146.0,305.6 L148.0,305.6 L150.0,305.6 L152.0,305.6 L154.0,305.6 L156.0,305.7 L158.0,305.8 L160.0,305.9 L162.0,306.0 L164.0,306.2 L166.0,306.4 L168.0,306.6 L170.0,306.8 L172.0,307.3 L174.0,307.8 L176.0,308.1 L178.0,308.3 L180.0,308.5 L182.0,308.6 L184.0,308.7 L186.0,308.8 L188.0,308.9 L190.0,309.0 L192.0,309.1 L194.0,309.2 L196.0,309.3 L198.0,309.4 L200.0,309.5 L202.0,309.6 L204.0,309.7 L206.0,309.8 L208.0,309.8 L210.0,309.8 L212.0,309.7 L214.0,309.6 L216.0,309.5 L218.0,309.3 L220.0,309.1 L222.0,308.8 L224.0,308.5 L226.0,308.1 L228.0,307.6 L230.0,306.9 L232.0,306.3 L234.0,305.7 L236.0,305.1 L238.0,304.6 L240.0,304.0 L242.0,303.3 L244.0,302.5 L246.0,301.7 L248.0,300.8 L249.4,300.2 L257.9,297.1 L262.2,294.7 L266.5,292.2 L270.8,290.3 L275.2,288.8 L279.5,287.7 L283.8,286.8 L288.1,285.9 L292.4,285.3 L296.8,285.3 L301.1,285.3 L305.4,284.2 L309.7,283.3 L314.0,282.3 L318.4,280.7 L322.7,279.1 L327.0,277.0 L331.3,274.6 L335.6,272.0 L340.0,269.0 L344.3,265.3 L348.6,262.4 L352.9,260.0 L357.2,256.9 L361.6,253.1 L365.9,250.5 L370.2,248.5 L374.5,245.8 L378.8,243.1 L383.2,240.1 L387.5,236.7 L391.8,232.7 L396.1,228.8 L400.4,225.0 L404.8,220.9 L409.1,217.2 L413.4,213.6 L417.7,209.6 L422.0,205.4 L426.4,201.8 L430.7,198.1 L435.0,195.0 L439.3,192.0 L443.6,189.1 L448.0,186.2 L452.3,182.9 L456.6,179.7 L460.9,175.7 L465.2,171.5 L469.6,168.5 L473.9,166.0 L478.2,163.6 L482.5,160.9 L486.8,159.4 L491.2,158.3 L495.5,157.2 L499.8,155.8 L504.1,154.3 L508.4,152.5 L512.8,151.0 L517.1,149.1 L521.4,147.9 L525.7,147.0 L530.0,146.2 L534.4,145.1 L538.7,143.6 L543.0,141.8 L547.3,140.5 L551.6,139.0 L556.0,137.1 L560.3,134.5 L564.6,132.5 L568.9,130.4 L573.2,128.9 L577.6,127.2 L581.9,125.6 L586.2,124.8 L590.5,124.4 L594.8,123.7 L599.2,123.3 L603.5,123.6 L607.8,124.1 L612.1,124.1 L616.4,124.2 L620.8,125.3 L625.1,125.7 L629.4,125.3 L633.7,125.6 L638.0,126.4 L642.4,127.1 L646.7,127.6 L651.0,129.0 L655.3,130.0 L659.6,131.4 L664.0,133.3" stroke="#5252f0" stroke-width="1.00"/>
<path d="M2.0,323.0 L4.0,323.9 L6.0,324.7 L8.0,325.5 L10.0,326.1 L12.0,326.6 L14.0,326.9 L16.0,327.0 L18.0,326.9 L20.0,326.7 L22.0,326.4 L24.0,326.0 L26.0,325.5 L28.0,325.0 L30.0,324.5 L32.0,324.0 L34.0,323.6 L36.0,323.3 L38.0,323.1 L40.0,323.0 L42.0,323.1 L44.0,323.2 L46.0,323.4 L48.0,323.7 L50.0,324.0 L52.0,324.3 L54.0,324.6 L56.0,324.8 L58.0,324.9 L60.0,325.0 L62.0,325.0 L64.0,325.0 L66.0,324.9 L68.0,324.8 L70.0,324.7 L72.0,324.6 L74.0,324.5 L76.0,324.3 L78.0,324.2 L80.0,324.0 L82.0,323.7 L84.0,323.3 L86.0,322.7 L88.0,322.0 L90.0,321.1 L92.0,320.2 L94.0,319.2 L96.0,318.1 L98.0,317.1 L100.0,316.0 L102.0,314.9 L104.0,313.6 L106.0,312.2 L108.0,310.8 L110.0,309.2 L112.0,307.5 L114.0,305.7 L116.0,303.9 L118.0,302.0 L120.0,300.0 L128.3,293.9 L132.6,291.0 L136.9,288.2 L141.2,286.8 L145.6,285.6 L149.9,286.0 L154.2,286.6 L158.5,287.2 L162.8,288.4 L167.2,290.4 L171.5,291.6 L175.8,291.9 L180.1,292.8 L184.4,293.8 L188.8,293.5 L193.1,293.7 L197.4,293.5 L201.7,294.6 L206.0,295.6 L210.4,296.5 L214.7,296.1 L219.0,297.7 L223.3,298.9 L227.6,299.0 L232.0,298.5 L236.3,298.0 L240.6,298.7 L244.9,298.8 L249.2,300.4 L253.6,300.4 L257.9,300.2 L262.2,298.3 L266.5,296.3 L270.8,293.8 L275.2,292.0 L279.5,289.4 L283.8,287.1 L288.1,284.6 L292.4,282.2 L296.8,280.3 L301.1,279.1 L305.4,276.6 L309.7,273.8 L314.0,270.7 L318.4,267.9 L322.7,264.5 L327.0,260.4 L331.3,254.6 L335.6,248.5 L340.0,241.5 L344.3,234.5 L348.6,227.0 L352.9,221.1 L357.2,214.9 L361.6,207.8 L365.9,203.0 L370.2,198.3 L374.5,192.7 L378.8,185.7 L383.2,179.7 L387.5,173.1 L391.8,167.1 L396.1,161.3 L400.4,156.2 L404.8,149.8 L409.1,144.9 L413.4,140.0 L417.7,134.5 L422.0,128.7 L426.4,123.4 L430.7,117.2 L435.0,113.5 L439.3,110.3 L443.6,107.4 L448.0,104.5 L452.3,101.3 L456.6,99.0 L460.9,96.8 L465.2,94.6 L469.6,95.5 L473.9,97.6 L478.2,100.1 L482.5,100.8 L486.8,103.8 L491.2,108.8 L495.5,111.4 L499.8,113.3 L504.1,115.8 L508.4,119.4 L512.8,122.3 L517.1,125.1 L521.4,128.7 L525.7,132.7 L530.0,136.2 L534.4,140.5 L538.7,142.3 L543.0,143.6 L547.3,146.4 L551.6,149.3 L556.0,150.7 L560.3,151.8 L564.6,151.5 L568.9,150.6 L573.2,150.3 L577.6,150.0 L581.9,149.8 L586.2,150.6 L590.5,152.0 L594.8,152.8 L599.2,151.0 L603.5,149.7 L607.8,148.1 L612.1,147.5 L616.4,144.7 L620.8,141.8 L625.1,140.0 L629.4,137.2 L633.7,135.4 L638.0,133.5 L642.4,132.0 L646.7,130.1 L651.0,129.2 L655.3,127.4 L659.6,126.5 L664.0,126.2" stroke="#50ee50" stroke-width="1.05"/>
<path d="M3.0,329.0 L5.0,332.5 L7.0,335.7 L9.0,338.6 L11.0,340.9 L13.0,342.4 L15.0,343.0 L17.0,342.9 L19.0,342.8 L21.0,342.6 L23.0,342.3 L25.0,342.0 L27.0,341.6 L29.0,341.2 L31.0,340.8 L33.0,340.2 L35.0,339.5 L37.0,338.7 L39.0,337.7 L41.0,336.7 L43.0,335.7 L45.0,334.6 L47.0,333.6 L49.0,332.5 L51.0,331.5 L53.0,330.5 L55.0,329.5 L57.0,328.4 L59.0,327.4 L61.0,326.2 L63.0,325.0 L65.0,323.7 L67.0,322.3 L69.0,320.7 L71.0,319.0 L73.0,317.2 L75.0,315.3 L77.0,313.2 L79.0,311.1 L80.0,310.0 L85.1,306.6 L89.4,300.1 L93.7,293.9 L98.0,290.6 L102.4,288.4 L106.7,287.0 L111.0,286.1 L115.3,284.9 L119.6,282.8 L124.0,282.9 L128.3,282.8 L132.6,283.4 L136.9,284.2 L141.2,285.8 L145.6,285.5 L149.9,285.9 L154.2,285.6 L158.5,286.6 L162.8,287.5 L167.2,288.7 L171.5,288.9 L175.8,290.8 L180.1,293.4 L184.4,294.6 L188.8,294.7 L193.1,296.7 L197.4,298.5 L201.7,301.2 L206.0,305.7 L210.4,308.9 L214.7,309.9 L219.0,310.2 L223.3,309.9 L227.6,308.8 L232.0,307.8 L236.3,305.0 L240.6,304.2 L244.9,302.3 L249.2,300.8 L253.6,297.8 L257.9,295.8 L262.2,293.1 L266.5,289.4 L270.8,285.7 L275.2,283.2 L279.5,279.4 L283.8,276.0 L288.1,271.6 L292.4,267.5 L296.8,264.3 L301.1,263.3 L305.4,259.1 L309.7,255.8 L314.0,252.2 L318.4,248.8 L322.7,246.4 L327.0,241.1 L331.3,234.9 L335.6,227.7 L340.0,220.6 L344.3,211.3 L348.6,203.2 L352.9,197.2 L357.2,190.6 L361.6,181.5 L365.9,175.4 L370.2,171.0 L374.5,164.5 L378.8,156.0 L383.2,147.0 L387.5,136.8 L391.8,128.9 L396.1,120.6 L400.4,113.9 L404.8,106.0 L409.1,100.1 L413.4,95.4 L417.7,91.5 L422.0,87.8 L426.4,87.1 L430.7,87.3 L435.0,88.8 L439.3,89.5 L443.6,91.0 L448.0,93.9 L452.3,93.9 L456.6,92.2 L460.9,91.0 L465.2,91.1 L469.6,94.3 L473.9,98.0 L478.2,102.8 L482.5,106.4 L486.8,112.0 L491.2,120.0 L495.5,125.1 L499.8,130.8 L504.1,136.4 L508.4,142.1 L512.8,145.3 L517.1,148.7 L521.4,151.8 L525.7,154.2 L530.0,157.1 L534.4,159.9 L538.7,161.6 L543.0,162.2 L547.3,165.8 L551.6,169.8 L556.0,169.9 L560.3,168.7 L564.6,165.8 L568.9,164.2 L573.2,160.7 L577.6,155.7 L581.9,151.5 L586.2,148.2 L590.5,145.3 L594.8,141.3 L599.2,137.3 L603.5,134.9 L607.8,131.8 L612.1,128.6 L616.4,124.7 L620.8,122.0 L625.1,121.6 L629.4,121.3 L633.7,119.9 L638.0,118.4 L642.4,117.2 L646.7,116.2 L651.0,118.4 L655.3,119.5 L659.6,121.4 L664.0,124.3" stroke="#ffe94c" stroke-width="1.05"/>
<path d="M3.0,362.0 L5.0,365.1 L7.0,367.3 L9.0,368.6 L11.0,369.0 L13.0,368.3 L15.0,366.6 L17.0,364.1 L19.0,361.4 L21.0,358.5 L23.0,355.0 L25.0,350.8 L27.0,346.4 L29.0,342.1 L31.0,338.0 L33.0,334.0 L35.0,330.0 L37.0,326.0 L38.0,324.0 L41.9,316.2 L46.2,306.2 L50.5,296.3 L54.8,288.9 L59.2,285.7 L63.5,286.4 L67.8,288.5 L72.1,288.4 L76.4,290.2 L80.8,293.9 L85.1,296.9 L89.4,294.0 L93.7,291.6 L98.0,292.3 L102.4,291.0 L106.7,287.6 L111.0,283.6 L115.3,281.4 L119.6,275.4 L124.0,271.8 L128.3,268.6 L132.6,272.8 L136.9,276.8 L141.2,279.3 L145.6,279.9 L149.9,284.1 L154.2,287.6 L158.5,291.7 L162.8,299.6 L167.2,305.5 L171.5,309.2 L175.8,308.8 L180.1,310.0 L184.4,310.0 L188.8,309.6 L193.1,309.3 L197.4,309.3 L201.7,310.6 L206.0,311.7 L210.4,312.2 L214.7,310.6 L219.0,311.7 L223.3,309.9 L227.6,307.7 L232.0,306.0 L236.3,300.7 L240.6,299.0 L244.9,294.0 L249.2,289.9 L253.6,283.4 L257.9,280.9 L262.2,274.5 L266.5,269.0 L270.8,263.7 L275.2,260.4 L279.5,258.2 L283.8,252.9 L288.1,249.1 L292.4,245.0 L296.8,245.2 L301.1,245.7 L305.4,243.6 L309.7,242.6 L314.0,240.8 L318.4,237.2 L322.7,234.6 L327.0,229.3 L331.3,220.7 L335.6,210.4 L340.0,195.9 L344.3,176.9 L348.6,162.9 L352.9,151.7 L357.2,140.3 L361.6,125.8 L365.9,116.3 L370.2,112.6 L374.5,108.4 L378.8,101.6 L383.2,98.0 L387.5,96.7 L391.8,94.8 L396.1,89.5 L400.4,87.5 L404.8,86.3 L409.1,83.9 L413.4,78.2 L417.7,74.5 L422.0,74.0 L426.4,76.2 L430.7,77.9 L435.0,82.7 L439.3,89.5 L443.6,94.4 L448.0,101.5 L452.3,103.8 L456.6,106.3 L460.9,107.6 L465.2,108.3 L469.6,112.5 L473.9,118.1 L478.2,122.8 L482.5,123.3 L486.8,129.6 L491.2,138.5 L495.5,146.4 L499.8,155.4 L504.1,165.2 L508.4,175.9 L512.8,178.2 L517.1,179.3 L521.4,180.7 L525.7,185.2 L530.0,184.6 L534.4,181.4 L538.7,176.8 L543.0,169.1 L547.3,166.4 L551.6,163.7 L556.0,161.5 L560.3,158.0 L564.6,150.9 L568.9,143.2 L573.2,136.7 L577.6,130.0 L581.9,126.3 L586.2,127.2 L590.5,124.3 L594.8,118.8 L599.2,113.2 L603.5,111.8 L607.8,112.7 L612.1,114.0 L616.4,112.7 L620.8,114.0 L625.1,117.0 L629.4,115.4 L633.7,115.4 L638.0,118.0 L642.4,121.3 L646.7,120.6 L651.0,124.0 L655.3,125.0 L659.6,130.2 L664.0,134.7" stroke="#ffca4a" stroke-width="1.05"/>
</g>
<g clip-path="url(#cm)" fill="none" stroke-linejoin="round" stroke-linecap="round">
<path d="M2.4,377.0 L7.3,382.6 L11.6,374.5 L16.0,359.0 L20.3,347.0 L24.6,329.0 L28.9,312.0 L33.2,299.2 L37.6,285.8 L41.9,281.9 L46.2,283.3 L50.5,280.5 L54.8,278.5 L59.2,285.6 L63.5,290.9 L67.8,293.7 L72.1,296.3 L76.4,301.9 L80.8,302.1 L85.1,303.0 L89.4,294.4 L93.7,286.8 L98.0,282.6 L102.4,280.0 L106.7,272.2 L111.0,272.8 L115.3,275.9 L119.6,268.1 L124.0,263.7 L128.3,264.9 L132.6,272.7 L136.9,277.6 L141.2,290.4 L145.6,296.1 L149.9,303.3 L154.2,302.5 L158.5,305.8 L162.8,308.8 L167.2,314.9 L171.5,315.1 L175.8,315.1 L180.1,314.1 L184.4,311.1 L188.8,304.2 L193.1,303.5 L197.4,303.5 L201.7,307.1 L206.0,312.3 L210.4,320.2 L214.7,317.6 L219.0,319.8 L223.3,312.6 L227.6,303.0 L232.0,291.7 L236.3,283.8 L240.6,278.3 L244.9,275.5 L249.2,276.9 L253.6,275.2 L257.9,278.1 L262.2,270.7 L266.5,262.5 L270.8,250.5 L275.2,245.6 L279.5,238.2 L283.8,235.1 L288.1,235.7 L292.4,239.5 L296.8,244.8 L301.1,253.1 L305.4,252.1 L309.7,249.4 L314.0,242.0 L318.4,229.6 L322.7,216.1 L327.0,206.5 L331.3,191.9 L335.6,178.8 L340.0,162.2 L344.3,137.6 L348.6,119.2 L352.9,111.5 L357.2,101.8 L361.6,89.4 L365.9,94.9 L370.2,106.0 L374.5,105.3 L378.8,101.4 L383.2,106.6 L387.5,98.6 L391.8,83.7 L396.1,73.8 L400.4,73.7 L404.8,66.0 L409.1,69.3 L413.4,72.7 L417.7,75.3 L422.0,74.3 L426.4,86.4 L430.7,86.6 L435.0,92.8 L439.3,103.8 L443.6,114.6 L448.0,116.6 L452.3,121.0 L456.6,119.8 L460.9,111.3 L465.2,101.9 L469.6,108.3 L473.9,115.1 L478.2,125.7 L482.5,135.2 L486.8,157.2 L491.2,168.7 L495.5,177.7 L499.8,185.1 L504.1,195.3 L508.4,194.6 L512.8,187.8 L517.1,181.0 L521.4,176.4 L525.7,175.1 L530.0,174.6 L534.4,175.0 L538.7,172.6 L543.0,161.8 L547.3,157.7 L551.6,152.9 L556.0,148.0 L560.3,143.4 L564.6,140.0 L568.9,128.8 L573.2,120.5 L577.6,111.9 L581.9,109.1 L586.2,114.4 L590.5,119.8 L594.8,117.1 L599.2,114.4 L603.5,114.4 L607.8,111.0 L612.1,108.2 L616.4,108.2 L620.8,113.5 L625.1,119.5 L629.4,119.8 L633.7,122.6 L638.0,127.7 L642.4,129.1 L646.7,121.7 L651.0,128.2 L655.3,127.4 L659.6,132.7 L664.0,140.3" stroke="#f40a0a" stroke-width="1.15"/>
</g>
<g clip-path="url(#cs)" fill="none" stroke-linejoin="round">
<line x1="3" y1="422.2" x2="839" y2="422.2" stroke="#d2d2d2" stroke-width="1.0" stroke-dasharray="1.5,1.74"/>
<line x1="3" y1="472" x2="839" y2="472" stroke="#d2d2d2" stroke-width="1.0" stroke-dasharray="1.5,1.74"/>
<path d="M3.0,474.5 L7.3,474.5 L11.6,466.2 L16.0,451.3 L20.3,430.6 L24.6,416.5 L28.9,412.3 L33.2,414.0 L37.6,418.2 L41.9,422.0 L46.2,429.8 L50.5,441.2 L54.8,451.7 L59.2,458.8 L63.5,464.1 L67.8,471.3 L72.1,473.5 L76.4,470.3 L80.8,462.7 L85.1,459.7 L89.4,453.4 L93.7,445.4 L98.0,435.4 L102.4,434.5 L106.7,438.7 L111.0,443.1 L115.3,443.2 L119.6,442.2 L124.0,444.9 L128.3,450.0 L132.6,460.6 L136.9,470.1 L141.2,479.7 L145.6,480.3 L149.9,478.2 L154.2,469.2 L158.5,467.1 L162.8,466.5 L167.2,475.5 L171.5,477.0 L175.8,470.9 L180.1,454.8 L184.4,439.7 L188.8,431.9 L193.1,433.3 L197.4,440.1 L201.7,453.9 L206.0,464.8 L210.4,474.0 L214.7,469.4 L219.0,459.8 L223.3,442.7 L227.6,431.3 L232.0,420.6 L236.3,415.4 L240.6,414.7 L244.9,421.8 L249.2,437.7 L253.6,447.7 L257.9,451.7 L262.2,440.4 L266.5,429.6 L270.8,419.1 L275.2,418.3 L279.5,421.0 L283.8,427.4 L288.1,433.8 L292.4,445.8 L296.8,459.3 L301.1,472.3 L305.4,470.5 L309.7,458.8 L314.0,437.2 L318.4,423.1 L322.7,416.0 L327.0,417.3 L331.3,417.9 L335.6,416.5 L340.0,414.7 L344.3,414.6 L348.6,415.6 L352.9,420.4 L357.2,427.4 L361.6,433.8 L365.9,438.1 L370.2,445.6 L374.5,458.8 L378.8,464.5 L383.2,457.7 L387.5,439.7 L391.8,426.6 L396.1,418.6 L400.4,422.9 L404.8,430.0 L409.1,445.9 L413.4,455.5 L417.7,465.6 L422.0,464.9 L426.4,465.1 L430.7,461.9 L435.0,466.7 L439.3,470.0 L443.6,475.8 L448.0,474.4 L452.3,469.8 L456.6,458.8 L460.9,444.8 L465.2,431.4 L469.6,431.0 L473.9,443.7 L478.2,464.7 L482.5,474.8 L486.8,478.2 L491.2,476.2 L495.5,478.3 L499.8,477.8 L504.1,475.0 L508.4,469.0 L512.8,458.7 L517.1,444.0 L521.4,432.4 L525.7,431.4 L530.0,443.0 L534.4,455.6 L538.7,457.4 L543.0,447.0 L547.3,436.1 L551.6,436.2 L556.0,446.9 L560.3,452.1 L564.6,447.2 L568.9,433.5 L573.2,424.5 L577.6,421.8 L581.9,425.5 L586.2,431.9 L590.5,445.7 L594.8,455.3 L599.2,452.9 L603.5,438.1 L607.8,428.5 L612.1,432.2 L616.4,441.3 L620.8,450.1 L625.1,456.3 L629.4,459.7 L633.7,460.4 L638.0,456.8 L642.4,455.0 L646.7,447.1 L651.0,445.4 L655.3,444.8 L659.6,458.5 L664.0,467.3" stroke="#ff4c4c" stroke-width="1.15" stroke-dasharray="1.3,1.5"/>
<path d="M3.0,474.5 L7.3,473.7 L11.6,451.3 L16.0,428.9 L20.3,410.7 L24.6,410.7 L28.9,414.6 L33.2,418.1 L37.6,421.8 L41.9,426.2 L46.2,441.4 L50.5,456.1 L54.8,457.8 L59.2,462.4 L63.5,472.2 L67.8,479.4 L72.1,469.0 L76.4,462.5 L80.8,456.5 L85.1,460.2 L89.4,443.5 L93.7,432.6 L98.0,430.2 L102.4,440.7 L106.7,445.3 L111.0,443.2 L115.3,441.1 L119.6,442.4 L124.0,451.4 L128.3,456.4 L132.6,474.0 L136.9,479.8 L141.2,485.2 L145.6,475.9 L149.9,473.4 L154.2,458.4 L158.5,469.5 L162.8,471.5 L167.2,485.5 L171.5,474.0 L175.8,453.3 L180.1,437.0 L184.4,428.8 L188.8,429.9 L193.1,441.1 L197.4,449.3 L201.7,471.4 L206.0,473.6 L210.4,477.0 L214.7,457.5 L219.0,445.0 L223.3,425.5 L227.6,423.3 L232.0,412.9 L236.3,410.1 L240.6,421.2 L244.9,434.1 L249.2,457.7 L253.6,451.4 L257.9,445.9 L262.2,424.0 L266.5,419.0 L270.8,414.4 L275.2,421.6 L279.5,427.0 L283.8,433.5 L288.1,440.8 L292.4,462.9 L296.8,474.3 L301.1,479.8 L305.4,457.3 L309.7,439.2 L314.0,415.1 L318.4,414.8 L322.7,418.2 L327.0,418.8 L331.3,416.7 L335.6,413.9 L340.0,413.7 L344.3,416.2 L348.6,416.8 L352.9,428.1 L357.2,437.2 L361.6,436.0 L365.9,441.2 L370.2,459.6 L374.5,475.8 L378.8,458.2 L383.2,439.0 L387.5,421.7 L391.8,419.2 L396.1,415.0 L400.4,434.5 L404.8,440.6 L409.1,462.5 L413.4,463.2 L417.7,471.1 L422.0,460.3 L426.4,463.8 L430.7,461.5 L435.0,474.7 L439.3,474.0 L443.6,478.9 L448.0,470.4 L452.3,460.2 L456.6,445.7 L460.9,428.4 L465.2,420.0 L469.6,444.5 L473.9,466.5 L478.2,483.2 L482.5,474.6 L486.8,476.9 L491.2,477.2 L495.5,480.7 L499.8,475.6 L504.1,468.6 L508.4,462.9 L512.8,444.5 L517.1,424.6 L521.4,428.1 L525.7,441.5 L530.0,459.3 L534.4,466.1 L538.7,446.9 L543.0,427.9 L547.3,433.6 L551.6,447.1 L556.0,459.9 L560.3,449.3 L564.6,432.3 L568.9,418.9 L573.2,422.2 L577.6,424.4 L581.9,429.9 L586.2,441.4 L590.5,465.9 L594.8,458.5 L599.2,434.2 L603.5,421.7 L607.8,429.6 L612.1,445.2 L616.4,448.9 L620.8,456.2 L625.1,463.7 L629.4,459.3 L633.7,458.2 L638.0,452.7 L642.4,454.1 L646.7,434.5 L651.0,447.7 L655.3,452.1 L659.6,475.9 L664.0,474.0" stroke="#4fc4bc" stroke-width="0.9"/>
</g>
<g stroke="#6a6ae0" fill="none">
<line x1="2.5" y1="2" x2="2.5" y2="489" stroke-width="1"/>
<line x1="2" y1="2.5" x2="840" y2="2.5" stroke-width="1"/>
<line x1="839.5" y1="2" x2="839.5" y2="489" stroke-width="1"/>
<line x1="2" y1="404.2" x2="840" y2="404.2" stroke-width="1.6"/>
<line x1="2" y1="488.7" x2="840" y2="488.7" stroke-width="1.1"/>
<line x1="839.5" y1="9.9" x2="841.6" y2="9.9" stroke-width="0.8"/>
<line x1="839.5" y1="27.7" x2="841.6" y2="27.7" stroke-width="0.8"/>
<line x1="839.5" y1="45.6" x2="841.6" y2="45.6" stroke-width="0.8"/>
<line x1="839.5" y1="63.4" x2="841.6" y2="63.4" stroke-width="0.8"/>
<line x1="839.5" y1="81.3" x2="841.6" y2="81.3" stroke-width="0.8"/>
<line x1="839.5" y1="99.1" x2="841.6" y2="99.1" stroke-width="0.8"/>
<line x1="839.5" y1="117.0" x2="841.6" y2="117.0" stroke-width="0.8"/>
<line x1="839.5" y1="134.8" x2="841.6" y2="134.8" stroke-width="0.8"/>
<line x1="839.5" y1="152.7" x2="841.6" y2="152.7" stroke-width="0.8"/>
<line x1="839.5" y1="170.5" x2="841.6" y2="170.5" stroke-width="0.8"/>
<line x1="839.5" y1="188.4" x2="841.6" y2="188.4" stroke-width="0.8"/>
<line x1="839.5" y1="206.2" x2="841.6" y2="206.2" stroke-width="0.8"/>
<line x1="839.5" y1="224.0" x2="841.6" y2="224.0" stroke-width="0.8"/>
<line x1="839.5" y1="241.9" x2="841.6" y2="241.9" stroke-width="0.8"/>
<line x1="839.5" y1="259.7" x2="841.6" y2="259.7" stroke-width="0.8"/>
<line x1="839.5" y1="277.6" x2="841.6" y2="277.6" stroke-width="0.8"/>
<line x1="839.5" y1="295.4" x2="841.6" y2="295.4" stroke-width="0.8"/>
<line x1="839.5" y1="313.3" x2="841.6" y2="313.3" stroke-width="0.8"/>
<line x1="839.5" y1="331.1" x2="841.6" y2="331.1" stroke-width="0.8"/>
<line x1="839.5" y1="349.0" x2="841.6" y2="349.0" stroke-width="0.8"/>
<line x1="839.5" y1="366.8" x2="841.6" y2="366.8" stroke-width="0.8"/>
<line x1="839.5" y1="384.7" x2="841.6" y2="384.7" stroke-width="0.8"/>
<line x1="839.5" y1="402.5" x2="841.6" y2="402.5" stroke-width="0.8"/>
<line x1="3.0" y1="488.4" x2="3.0" y2="490.6" stroke-width="0.9"/>
<line x1="37.6" y1="488.4" x2="37.6" y2="490.6" stroke-width="0.9"/>
<line x1="72.1" y1="488.4" x2="72.1" y2="490.6" stroke-width="0.9"/>
<line x1="106.7" y1="488.4" x2="106.7" y2="490.6" stroke-width="0.9"/>
<line x1="141.2" y1="488.4" x2="141.2" y2="490.6" stroke-width="0.9"/>
<line x1="175.8" y1="488.4" x2="175.8" y2="490.6" stroke-width="0.9"/>
<line x1="210.4" y1="488.4" x2="210.4" y2="490.6" stroke-width="0.9"/>
<line x1="244.9" y1="488.4" x2="244.9" y2="490.6" stroke-width="0.9"/>
<line x1="279.5" y1="488.4" x2="279.5" y2="490.6" stroke-width="0.9"/>
<line x1="314.0" y1="488.4" x2="314.0" y2="490.6" stroke-width="0.9"/>
<line x1="348.6" y1="488.4" x2="348.6" y2="490.6" stroke-width="0.9"/>
<line x1="383.2" y1="488.4" x2="383.2" y2="490.6" stroke-width="0.9"/>
<line x1="417.7" y1="488.4" x2="417.7" y2="490.6" stroke-width="0.9"/>
<line x1="452.3" y1="488.4" x2="452.3" y2="490.6" stroke-width="0.9"/>
<line x1="486.8" y1="488.4" x2="486.8" y2="490.6" stroke-width="0.9"/>
<line x1="521.4" y1="488.4" x2="521.4" y2="490.6" stroke-width="0.9"/>
<line x1="556.0" y1="488.4" x2="556.0" y2="490.6" stroke-width="0.9"/>
<line x1="590.5" y1="488.4" x2="590.5" y2="490.6" stroke-width="0.9"/>
<line x1="625.1" y1="488.4" x2="625.1" y2="490.6" stroke-width="0.9"/>
<line x1="659.6" y1="488.4" x2="659.6" y2="490.6" stroke-width="0.9"/>
</g>
<g fill="#2424d6" font-size="5.8" stroke="#2424d6" stroke-width="0.14">
<text transform="translate(842.8 11.7) scale(0.840 1)">1.40240</text>
<text transform="translate(842.8 29.5) scale(0.840 1)">1.39540</text>
<text transform="translate(842.8 47.4) scale(0.840 1)">1.38840</text>
<text transform="translate(842.8 65.2) scale(0.840 1)">1.38140</text>
<text transform="translate(842.8 83.1) scale(0.840 1)">1.37440</text>
<text transform="translate(842.8 100.9) scale(0.840 1)">1.36740</text>
<text transform="translate(842.8 118.8) scale(0.840 1)">1.36040</text>
<text transform="translate(842.8 136.6) scale(0.840 1)">1.35340</text>
<text transform="translate(842.8 154.5) scale(0.840 1)">1.34640</text>
<text transform="translate(842.8 172.3) scale(0.840 1)">1.33940</text>
<text transform="translate(842.8 190.2) scale(0.840 1)">1.33240</text>
<text transform="translate(842.8 208.0) scale(0.840 1)">1.32540</text>
<text transform="translate(842.8 225.8) scale(0.840 1)">1.31840</text>
<text transform="translate(842.8 243.7) scale(0.840 1)">1.31140</text>
<text transform="translate(842.8 261.5) scale(0.840 1)">1.30440</text>
<text transform="translate(842.8 279.4) scale(0.840 1)">1.29740</text>
<text transform="translate(842.8 297.2) scale(0.840 1)">1.29060</text>
<text transform="translate(842.8 315.1) scale(0.840 1)">1.28360</text>
<text transform="translate(842.8 332.9) scale(0.840 1)">1.27660</text>
<text transform="translate(842.8 350.8) scale(0.840 1)">1.26960</text>
<text transform="translate(842.8 368.6) scale(0.840 1)">1.26260</text>
<text transform="translate(842.8 386.5) scale(0.840 1)">1.25560</text>
<text transform="translate(842.8 404.3) scale(0.840 1)">1.24860</text>
<text transform="translate(841.1 410.5) scale(0.830 1)">100</text>
<text transform="translate(841.1 424.1) scale(0.830 1)">80</text>
<text transform="translate(841.1 473.8) scale(0.830 1)">20</text>
<text transform="translate(841.1 486.8) scale(0.830 1)">0</text>
<text transform="translate(2.0 496.1) scale(0.875 1)">7 Jun 2022</text>
<text transform="translate(36.6 496.1) scale(0.875 1)">17 Jun 2022</text>
<text transform="translate(71.1 496.1) scale(0.875 1)">29 Jun 2022</text>
<text transform="translate(105.7 496.1) scale(0.875 1)">11 Jul 2022</text>
<text transform="translate(140.2 496.1) scale(0.875 1)">21 Jul 2022</text>
<text transform="translate(174.8 496.1) scale(0.875 1)">2 Aug 2022</text>
<text transform="translate(209.4 496.1) scale(0.875 1)">12 Aug 2022</text>
<text transform="translate(243.9 496.1) scale(0.875 1)">24 Aug 2022</text>
<text transform="translate(278.5 496.1) scale(0.875 1)">5 Sep 2022</text>
<text transform="translate(313.0 496.1) scale(0.875 1)">15 Sep 2022</text>
<text transform="translate(347.6 496.1) scale(0.875 1)">27 Sep 2022</text>
<text transform="translate(382.2 496.1) scale(0.875 1)">7 Oct 2022</text>
<text transform="translate(416.7 496.1) scale(0.875 1)">19 Oct 2022</text>
<text transform="translate(451.3 496.1) scale(0.875 1)">31 Oct 2022</text>
<text transform="translate(485.8 496.1) scale(0.875 1)">10 Nov 2022</text>
<text transform="translate(520.4 496.1) scale(0.875 1)">22 Nov 2022</text>
<text transform="translate(555.0 496.1) scale(0.875 1)">2 Dec 2022</text>
<text transform="translate(589.5 496.1) scale(0.875 1)">14 Dec 2022</text>
<text transform="translate(624.1 496.1) scale(0.875 1)">27 Dec 2022</text>
<text transform="translate(658.6 496.1) scale(0.875 1)">6 Jan 2023</text>
<text transform="translate(10.9 9.0) scale(0.889 1)">USDCAD#,Daily&#160; 1.34356 1.34434 1.33848 1.34174</text>
<text transform="translate(5.0 412.1) scale(0.860 1)">Stoch(5,3,3) 18.3943 26.5816</text>
</g>
<path d="M4.8,6.0 L8.0,6.0 L6.4,7.9 Z" fill="#1818d8"/>
<rect x="840.2" y="161.5" width="22.4" height="6.1" rx="0.8" fill="#1616c6"/>
<text transform="translate(842.8 166.4) scale(0.830 1)" font-size="5.8" fill="#ffffff">1.34174</text>
<polygon points="404.5,45.5 710.8,116.0 710.4,117.7 716.6,115.8 711.8,111.4 711.5,113.1 404.7,44.5" fill="#1ea21e"/>
<polygon points="526.6,170.6 537.4,121.7 538.8,122.0 536.7,116.0 532.5,120.8 533.9,121.1 525.8,170.4" fill="#ffb31a"/>
<polygon points="537.2,116.6 582.4,94.1 583.0,95.4 586.5,90.2 580.2,90.1 580.9,91.4 536.8,115.8" fill="#ffb31a"/>
<polygon points="587.7,90.3 635.6,100.7 635.3,102.1 641.3,100.2 636.5,96.2 636.2,97.6 587.9,89.5" fill="#ffb31a"/>
<polygon points="641.0,101.1 680.9,157.1 679.7,158.1 685.5,160.6 684.8,154.3 683.6,155.2 642.0,100.3" fill="#ffb31a"/>
<polygon points="665.9,139.3 710.9,139.5 711.0,141.2 716.1,137.9 710.8,134.7 710.9,136.4 665.9,138.1" fill="#ffb31a"/>
<g fill="#474747">
<text x="496.2" y="57.5" font-size="11.4">下降趋势线</text>
<text x="595.2" y="82.9" font-size="11.4">圆形顶反转</text>
<text x="720.6" y="141.5" font-size="11.5">5日均线</text>
<text x="3.6" y="400.8" font-size="11.9" stroke="#3c3c3c" stroke-width="0.15" textLength="129.2" lengthAdjust="spacingAndGlyphs" fill="#3c3c3c">2023年1月9日 美加日K线</text>
</g>
</svg></body></html>
